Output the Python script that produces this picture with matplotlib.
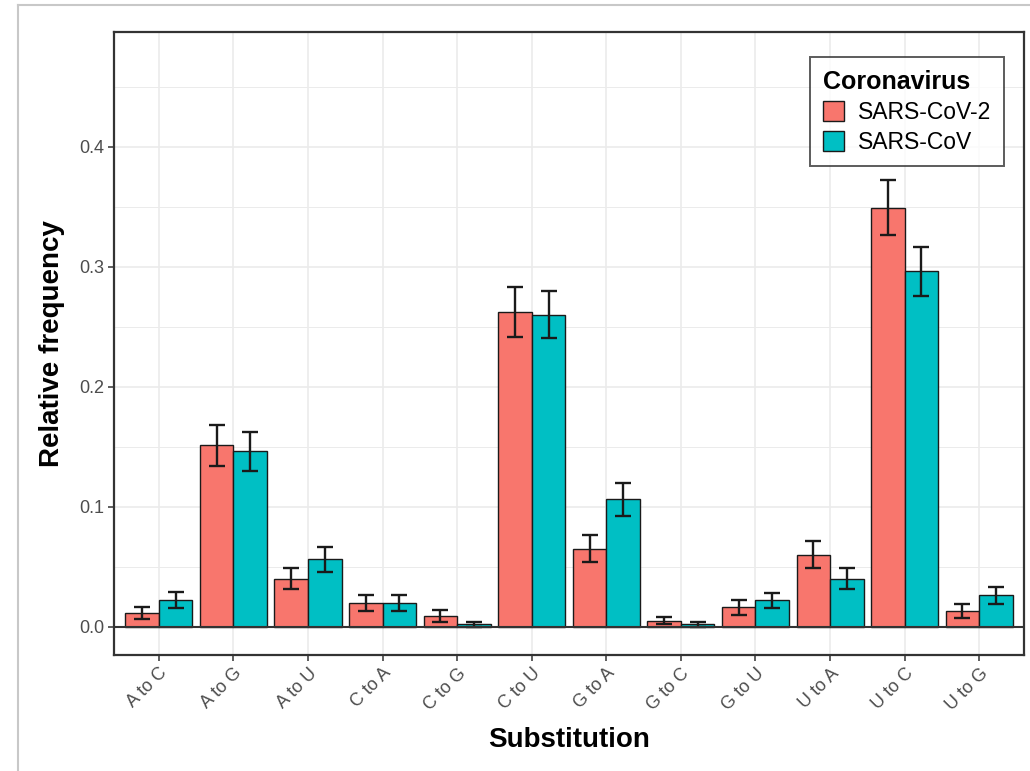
import matplotlib.pyplot as plt
import numpy as np
from matplotlib.lines import Line2D

plt.rcParams['font.family'] = ['Liberation Sans', 'DejaVu Sans']

# substitution types on the x axis
substitutions = ['A to C', 'A to G', 'A to U', 'C to A', 'C to G', 'C to U',
                 'G to A', 'G to C', 'G to U', 'U to A', 'U to C', 'U to G']

# SARS-CoV-2 relative frequency and error
sars2 = [0.011, 0.151, 0.040, 0.020, 0.009, 0.262, 0.065, 0.005, 0.016, 0.060, 0.349, 0.013]
sars2_err = [0.005, 0.017, 0.009, 0.0067, 0.0048, 0.021, 0.0113, 0.003, 0.006, 0.0115, 0.023, 0.0055]

# SARS-CoV relative frequency and error
sars = [0.022, 0.146, 0.056, 0.020, 0.002, 0.260, 0.106, 0.002, 0.022, 0.040, 0.296, 0.026]
sars_err = [0.0067, 0.016, 0.0104, 0.0067, 0.002, 0.0196, 0.014, 0.002, 0.0064, 0.009, 0.0205, 0.007]

series_names = ['SARS-CoV-2', 'SARS-CoV']
colors = ['#F8766D', '#00BFC4']

fig = plt.figure(figsize=(10.3, 7.71), dpi=100)
ax = fig.add_axes([0.1107, 0.1505, 0.8835, 0.808])

x = np.arange(len(substitutions))
w = 0.45

# bars with error bars
ax.bar(x - w / 2, sars2, w, color=colors[0], edgecolor='#1a1a1a', linewidth=1.0,
       label=series_names[0], zorder=2)
ax.bar(x + w / 2, sars, w, color=colors[1], edgecolor='#1a1a1a', linewidth=1.0,
       label=series_names[1], zorder=2)
ax.errorbar(x - w / 2, sars2, yerr=sars2_err, fmt='none', ecolor='#1a1a1a',
            elinewidth=1.7, capsize=5.5, capthick=1.7, zorder=3)
ax.errorbar(x + w / 2, sars, yerr=sars_err, fmt='none', ecolor='#1a1a1a',
            elinewidth=1.7, capsize=5.5, capthick=1.7, zorder=3)

# zero line
ax.axhline(0, color='#333333', linewidth=1.5, zorder=4)

# axis ranges
ax.set_xlim(-0.6, len(substitutions) - 0.4)
ax.set_ylim(-0.0236, 0.4955)

# ticks
ax.set_xticks(x)
ax.set_xticklabels(substitutions, rotation=45, ha='right', rotation_mode='anchor',
                   fontsize=13, color='#4D4D4D')
ax.set_yticks([0.0, 0.1, 0.2, 0.3, 0.4])
ax.set_yticklabels(['0.0', '0.1', '0.2', '0.3', '0.4'], fontsize=13, color='#4D4D4D')
ax.set_yticks([0.05, 0.15, 0.25, 0.35, 0.45], minor=True)
ax.tick_params(axis='both', which='major', length=4, width=1.1, color='#333333', pad=3)
ax.tick_params(axis='y', which='minor', length=0)

# grid like theme_bw
ax.set_axisbelow(True)
ax.grid(True, which='major', color='#EBEBEB', linewidth=1.2)
ax.grid(True, which='minor', axis='y', color='#EBEBEB', linewidth=0.7)

for s in ax.spines.values():
    s.set_color('#333333')
    s.set_linewidth(1.6)

# axis labels
ax.set_xlabel('Substitution', fontsize=20, fontweight='bold', labelpad=10)
ax.set_ylabel('Relative frequency', fontsize=20, fontweight='bold', labelpad=10)

# legend
leg = ax.legend(title='Coronavirus', loc='upper right', bbox_to_anchor=(0.9748, 0.926),
                bbox_transform=fig.transFigure, borderaxespad=0, fontsize=16.5,
                title_fontproperties={'weight': 'bold', 'size': 18},
                handlelength=0.95, handleheight=1.0, handletextpad=0.6,
                labelspacing=0.3, borderpad=0.55, fancybox=False, alignment='left')
leg.get_frame().set_edgecolor('#333333')
leg.get_frame().set_linewidth(1.4)

# outer picture frame
fig.add_artist(Line2D([17.5 / 1030, 17.5 / 1030], [0, 1 - 5 / 771], color='#C8C8C8', linewidth=1.5))
fig.add_artist(Line2D([17.5 / 1030, 1], [1 - 5 / 771, 1 - 5 / 771], color='#C8C8C8', linewidth=1.5))

plt.savefig('out.png', dpi=100)
